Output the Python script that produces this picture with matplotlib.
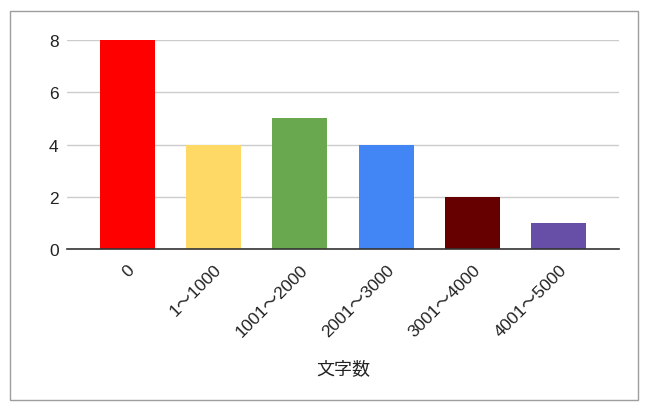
import matplotlib
matplotlib.use("Agg")
import matplotlib.pyplot as plt
from matplotlib.patches import Rectangle

# Data
categories = ["0", "1〜1000", "1001〜2000", "2001〜3000", "3001〜4000", "4001〜5000"]
counts = [8, 4, 5, 4, 2, 1]
bar_colors = ["#ff0000", "#ffd966", "#6aa84f", "#4285f4", "#660000", "#674ea7"]
y_ticks = [0, 2, 4, 6, 8]
x_label = "文字数"

plt.rcParams['font.family'] = ['Liberation Sans', 'Noto Sans CJK JP', 'DejaVu Sans']

fig = plt.figure(figsize=(6.63, 4.14), dpi=100)
ax = fig.add_axes([67 / 663, 1 - 250 / 414, (619 - 67) / 663, (250 - 41) / 414])

x = list(range(len(categories)))
ax.bar(x, counts, width=0.637, color=bar_colors, zorder=3)

ax.set_xlim(-0.695, len(categories) - 1 + 0.695)
ax.set_ylim(0, 8)
ax.set_yticks(y_ticks)
ax.set_yticklabels([str(v) for v in y_ticks], fontsize=12.5, color="#222222")
ax.set_xticks(x)
ax.set_xticklabels(categories, rotation=45, ha="right", rotation_mode="anchor",
                   fontsize=12.5, color="#222222")
ax.tick_params(axis="both", length=0)
ax.tick_params(axis="y", pad=6)
ax.tick_params(axis="x", pad=9)

ax.grid(axis="y", color="#cccccc", linewidth=1, zorder=0)
for side in ["top", "right", "left"]:
    ax.spines[side].set_visible(False)
ax.spines["bottom"].set_color("#333333")
ax.spines["bottom"].set_linewidth(1.2)
ax.spines["bottom"].set_zorder(4)

fig.text(343 / 663, 1 - 370 / 414, x_label, ha="center", va="center",
         fontsize=13, color="#222222")

# outer border
fig.patches.append(Rectangle((9.5 / 663, 1 - 400.5 / 414), (638 - 9.5) / 663, (400.5 - 11.5) / 414,
                             transform=fig.transFigure, fill=False,
                             edgecolor="#9e9e9e", linewidth=1))

fig.savefig("out.png", dpi=100)
